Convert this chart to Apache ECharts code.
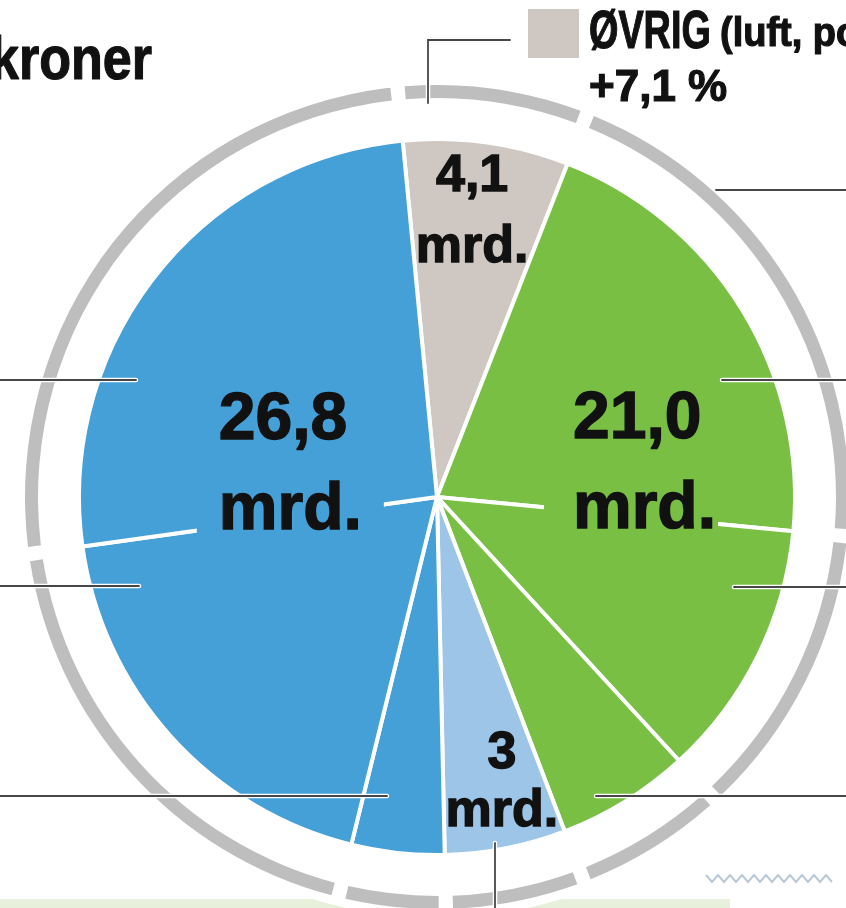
<!DOCTYPE html>
<html>
<head>
<meta charset="utf-8">
<title>kroner</title>
<script src="https://cdn.jsdelivr.net/npm/echarts@6/dist/echarts.min.js"></script>
<style>
  html, body { margin: 0; padding: 0; background: #fff; }
  #chart { width: 846px; height: 908px; overflow: hidden; }
</style>
</head>
<body>
<div id="chart"></div>
<script>
// hovedgrupper, mrd. kroner (med klokka fra toppen)
const groupNames = ['ØVRIG', 'grønn', 'lyseblå', 'blå'];
const groupValues = [4.1, 21.0, 3, 26.8];
const groupLabels = ['4,1', '21,0', '3', '26,8'];
const groupColors = ['#cec7c2', '#78bf44', '#9cc5e7', '#44a0d6'];

// underkategorier i samme rekkefølge, subGroup peker på hovedgruppen
const subValues = [4.1, 11.3, 6.4, 3.3, 3, 2.3, 10.4, 14.1];
const subGroup = [0, 1, 1, 1, 2, 3, 3, 3];

// tegnearket
const CX = 437, CY = 497, R = 358;
const START = 95.5; // første sektor starter litt til venstre for kl. 12
const FONT = "'Liberation Sans', Arial, sans-serif";

// størrelse og flytting av tallene inne i kaka
const labelSize = [52, 66, 52, 66];
const labelLh = [71, 90, 58, 90];
const labelAlign = ['center', 'left', 'center', 'left'];
const labelPad = [[0, 0, 0, 0], [0, 2, 0, 29], [0, 0, 0, 0], [0, 22, 0, 22]];
const labelBg = [null, groupColors[1], null, groupColors[3]]; // dekker skillestreken bak "mrd."
const labelNudge = [[10, -105], [12, -33], [30, 107], [35, -42]];

const chart = echarts.init(document.getElementById('chart'), null, { renderer: 'canvas' });

// strek med hvit kant, slik som i trykket
function leader(points) {
    return [
        { type: 'polyline', z: 10, shape: { points }, style: { stroke: '#fff', lineWidth: 4.5, lineCap: 'round', fill: null } },
        { type: 'polyline', z: 11, shape: { points }, style: { stroke: '#474747', lineWidth: 1.8, lineCap: 'round', fill: null } }
    ];
}

// tekst i smal skrift: vanlig fet skrift klemt sammen
function narrowText(text, x, y, size, sx) {
    return {
        type: 'text', z: 10, x, y, scaleX: sx,
        style: {
            text, font: 'bold ' + size + 'px ' + FONT, fill: '#111', verticalAlign: 'middle',
            stroke: '#111', lineWidth: 1.2
        }
    };
}

// liten bølgestrek nede til høyre
const wave = [];
for (let x = 706; x <= 834; x += 6) {
    wave.push([x, (x / 6) % 2 < 1 ? 882 : 875]);
}

const option = {
    backgroundColor: '#fff',
    animation: false,
    graphic: [
        { type: 'rect', z: 0, shape: { x: 0, y: 899, width: 730, height: 12 }, style: { fill: '#e7f0db' } },
        { type: 'circle', z: 1, shape: { cx: CX, cy: CY, r: 421 }, style: { fill: '#fff' } },
        narrowText('kroner', -10, 62, 62, 0.84),
        // forklaring øverst til høyre
        { type: 'rect', z: 10, shape: { x: 528, y: 9, width: 51, height: 49 }, style: { fill: groupColors[0] } },
        narrowText('ØVRIG', 589, 33, 54, 0.7),
        narrowText('(luft, post)', 720, 35, 40, 0.95),
        narrowText('+7,1 %', 589, 89, 44, 1),
        ...leader([[510, 40], [428, 40], [428, 103]]),
        ...leader([[716, 190], [846, 190]]),
        ...leader([[0, 380], [136, 380]]),
        ...leader([[0, 586], [139, 586]]),
        ...leader([[0, 796], [387, 796]]),
        ...leader([[846, 380], [722, 380]]),
        ...leader([[846, 587], [734, 587]]),
        ...leader([[846, 796], [596, 796]]),
        ...leader([[495, 843], [495, 910]]),
        { type: 'polyline', z: 10, shape: { points: wave }, style: { stroke: '#b9c8d6', lineWidth: 2, fill: null } }
    ],
    series: [
        // grå ring utenfor, med åpninger ved hver underkategori
        {
            type: 'pie',
            silent: true,
            z: 2,
            center: [CX, CY],
            radius: [399, 412],
            startAngle: START,
            padAngle: 2,
            label: { show: false },
            labelLine: { show: false },
            itemStyle: { color: '#bebebe', borderWidth: 0 },
            data: subValues.map(v => ({ value: v }))
        },
        // selve kaka
        {
            type: 'pie',
            silent: true,
            z: 2,
            center: [CX, CY],
            radius: [0, R],
            startAngle: START,
            label: { show: false },
            labelLine: { show: false },
            itemStyle: { borderColor: '#fff', borderWidth: 4 },
            data: subValues.map((v, i) => ({
                value: v,
                name: groupNames[subGroup[i]] + ' ' + i,
                itemStyle: { color: groupColors[subGroup[i]] }
            }))
        },
        // usynlig kake med samme vinkler, bare for tallene
        {
            type: 'pie',
            silent: true,
            z: 5,
            center: [CX, CY],
            radius: [0, R],
            startAngle: START,
            itemStyle: { color: 'rgba(0,0,0,0)', borderWidth: 0 },
            labelLine: { show: false },
            label: { show: true, position: 'inside' },
            labelLayout: p => ({ dx: labelNudge[p.dataIndex][0], dy: labelNudge[p.dataIndex][1] }),
            data: groupValues.map((v, i) => {
                const txt = {
                    fontSize: labelSize[i], lineHeight: labelLh[i], fontWeight: 'bold', fontFamily: FONT,
                    color: '#111', align: labelAlign[i], padding: labelPad[i],
                    textBorderColor: '#111', textBorderWidth: 1.4
                };
                return {
                    value: v,
                    name: groupNames[i],
                    label: {
                        formatter: '{v|' + groupLabels[i] + '}\n{m|mrd.}',
                        rich: {
                            v: txt,
                            m: labelBg[i] ? Object.assign({}, txt, { backgroundColor: labelBg[i] }) : txt
                        }
                    }
                };
            })
        }
    ]
};

chart.setOption(option);
</script>
</body>
</html>
